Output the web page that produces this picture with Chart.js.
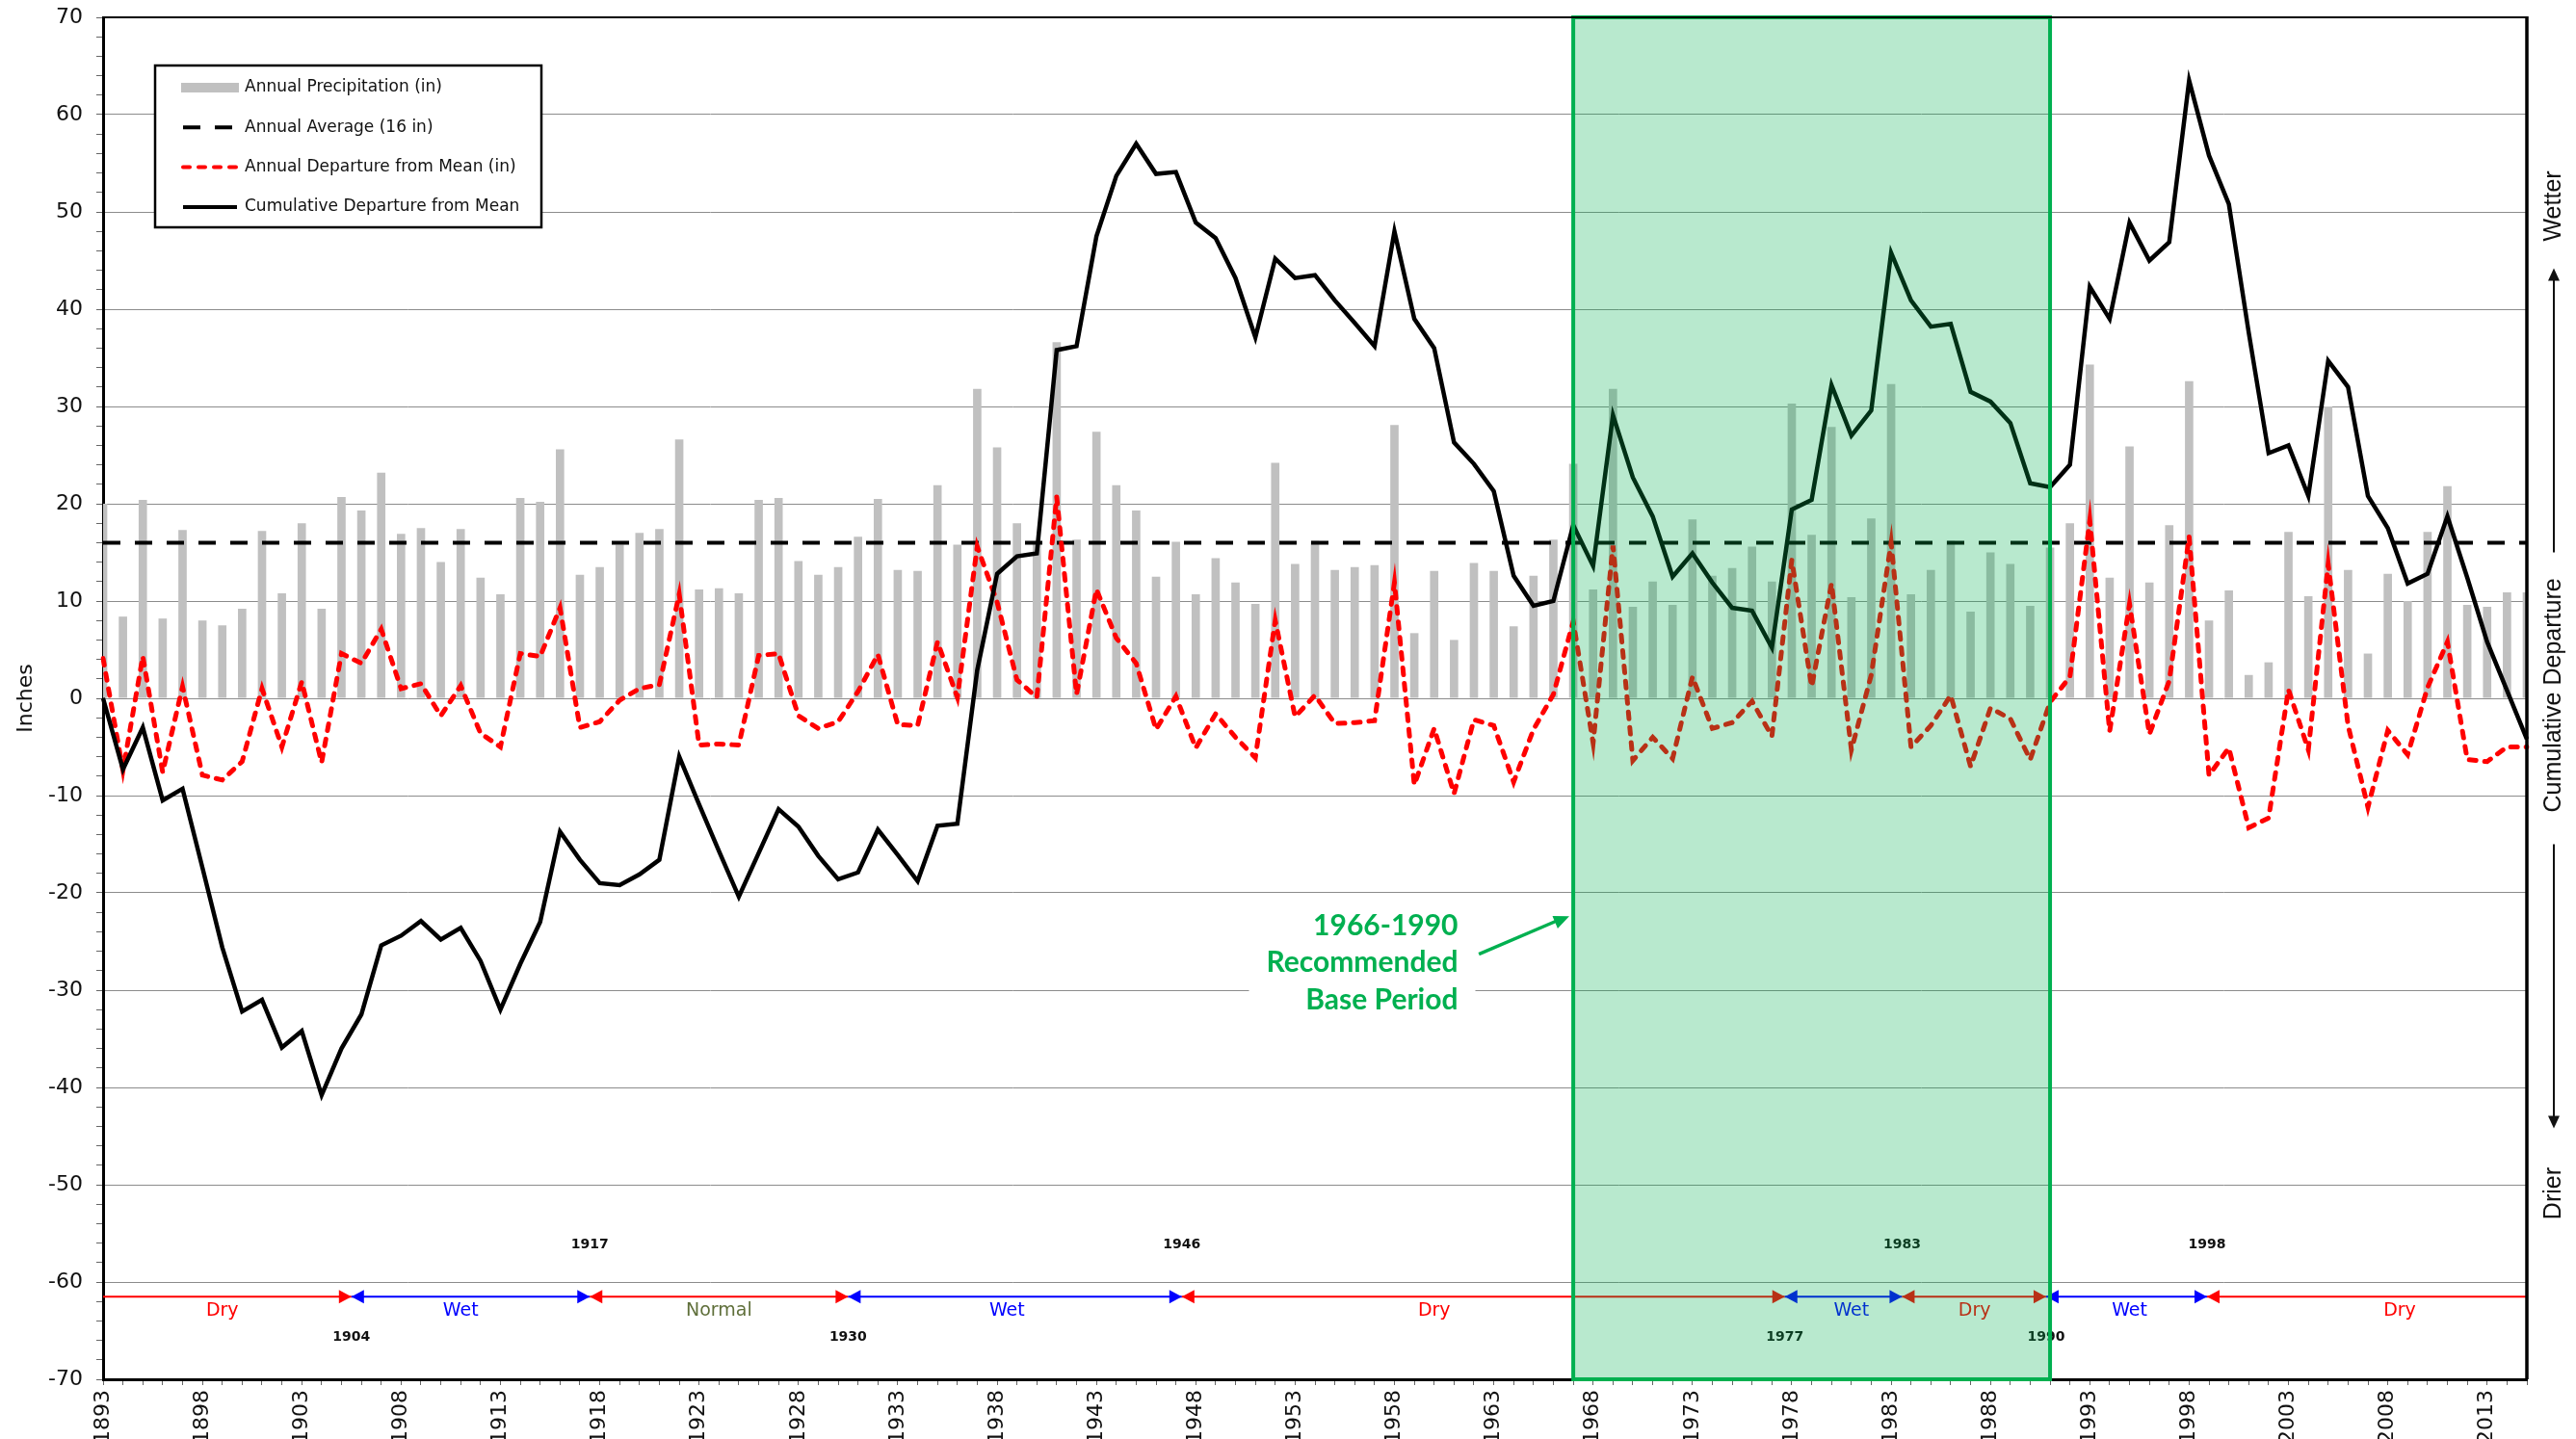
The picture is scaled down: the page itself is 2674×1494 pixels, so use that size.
<!DOCTYPE html>
<html>
<head>
<meta charset="utf-8">
<title>Annual Precipitation and Cumulative Departure from Mean</title>
<script src="https://cdn.jsdelivr.net/npm/chart.js@4.4.0/dist/chart.umd.min.js"></script>
<style>
  html, body { margin: 0; padding: 0; background: #fff; }
</style>
</head>
<body>
<canvas id="precipChart" width="2674" height="1494"></canvas>
<script>
// years on the x axis
const years = [
  1893, 1894, 1895, 1896, 1897, 1898, 1899, 1900, 1901, 1902,
  1903, 1904, 1905, 1906, 1907, 1908, 1909, 1910, 1911, 1912,
  1913, 1914, 1915, 1916, 1917, 1918, 1919, 1920, 1921, 1922,
  1923, 1924, 1925, 1926, 1927, 1928, 1929, 1930, 1931, 1932,
  1933, 1934, 1935, 1936, 1937, 1938, 1939, 1940, 1941, 1942,
  1943, 1944, 1945, 1946, 1947, 1948, 1949, 1950, 1951, 1952,
  1953, 1954, 1955, 1956, 1957, 1958, 1959, 1960, 1961, 1962,
  1963, 1964, 1965, 1966, 1967, 1968, 1969, 1970, 1971, 1972,
  1973, 1974, 1975, 1976, 1977, 1978, 1979, 1980, 1981, 1982,
  1983, 1984, 1985, 1986, 1987, 1988, 1989, 1990, 1991, 1992,
  1993, 1994, 1995, 1996, 1997, 1998, 1999, 2000, 2001, 2002,
  2003, 2004, 2005, 2006, 2007, 2008, 2009, 2010, 2011, 2012,
  2013, 2014, 2015
];

// annual precipitation (in)
const annualPrecip = [
  20.0, 8.4, 20.4, 8.2, 17.3, 8.0, 7.5, 9.2, 17.2, 10.8,
  18.0, 9.2, 20.7, 19.3, 23.2, 16.9, 17.5, 14.0, 17.4, 12.4,
  10.7, 20.6, 20.2, 25.6, 12.7, 13.5, 15.8, 17.0, 17.4, 26.6,
  11.2, 11.3, 10.8, 20.4, 20.6, 14.1, 12.7, 13.5, 16.6, 20.5,
  13.2, 13.1, 21.9, 15.8, 31.8, 25.8, 18.0, 15.9, 36.6, 16.3,
  27.4, 21.9, 19.3, 12.5, 16.1, 10.7, 14.4, 11.9, 9.7, 24.2,
  13.8, 16.2, 13.2, 13.5, 13.7, 28.1, 6.7, 13.1, 6.0, 13.9,
  13.1, 7.4, 12.6, 16.3, 24.1, 11.2, 31.8, 9.4, 12.0, 9.6,
  18.4, 12.6, 13.4, 15.6, 12.0, 30.3, 16.8, 27.9, 10.4, 18.5,
  32.3, 10.7, 13.2, 16.2, 8.9, 15.0, 13.8, 9.5, 15.5, 18.0,
  34.3, 12.4, 25.9, 11.9, 17.8, 32.6, 8.0, 11.1, 2.4, 3.7,
  17.1, 10.5, 30.0, 13.2, 4.6, 12.8, 10.0, 17.1, 21.8, 9.6,
  9.4, 10.9, 10.9
];

// annual departure from mean (in)
const annualDeparture = [
  4.1, -7.4, 4.3, -7.6, 1.2, -7.9, -8.4, -6.5, 1.0, -5.0,
  1.7, -6.6, 4.6, 3.6, 7.1, 1.0, 1.5, -1.8, 1.3, -3.6,
  -5.0, 4.6, 4.3, 9.3, -3.0, -2.4, -0.2, 1.0, 1.4, 10.7,
  -4.8, -4.7, -4.8, 4.4, 4.6, -1.8, -3.1, -2.4, 0.7, 4.5,
  -2.7, -2.8, 5.8, 0.1, 15.6, 9.9, 1.9, 0.1, 20.7, 0.4,
  11.2, 6.2, 3.6, -3.2, 0.2, -5.1, -1.6, -4.0, -6.1, 8.0,
  -1.9, 0.3, -2.6, -2.5, -2.3, 11.9, -8.9, -3.1, -9.8, -2.2,
  -2.8, -8.6, -3.2, 0.4, 7.9, -4.6, 15.7, -6.4, -4.0, -6.2,
  2.2, -3.1, -2.5, -0.3, -3.9, 14.2, 1.2, 11.8, -5.3, 2.4,
  16.0, -5.0, -2.8, 0.3, -7.0, -1.0, -2.1, -6.3, -0.4, 2.2,
  18.3, -3.4, 9.7, -3.7, 1.8, 16.6, -7.9, -5.1, -13.3, -12.3,
  0.9, -5.3, 13.8, -2.8, -11.2, -3.3, -5.8, 1.1, 5.8, -6.3,
  -6.5, -5.0, -5.0
];

// cumulative departure from mean (in)
const cumulativeDeparture = [
  0.0, -7.3, -3.0, -10.5, -9.3, -17.4, -25.6, -32.2, -31.0, -35.9,
  -34.2, -40.8, -36.0, -32.5, -25.4, -24.4, -22.9, -24.8, -23.6, -27.0,
  -32.0, -27.3, -23.0, -13.7, -16.6, -19.0, -19.2, -18.1, -16.6, -6.0,
  -10.9, -15.7, -20.4, -15.9, -11.4, -13.2, -16.2, -18.6, -17.9, -13.5,
  -16.1, -18.8, -13.1, -12.9, 2.9, 12.8, 14.6, 14.9, 35.8, 36.2,
  47.5, 53.7, 57.0, 53.9, 54.1, 48.9, 47.3, 43.2, 37.1, 45.2,
  43.2, 43.5, 40.9, 38.6, 36.2, 48.0, 39.0, 36.0, 26.3, 24.1,
  21.3, 12.6, 9.5, 10.0, 17.8, 13.6, 29.1, 22.7, 18.7, 12.5,
  14.9, 11.9, 9.3, 9.0, 5.2, 19.4, 20.4, 32.2, 27.0, 29.6,
  45.8, 40.9, 38.2, 38.5, 31.5, 30.5, 28.3, 22.1, 21.7, 24.0,
  42.3, 39.0, 48.9, 45.0, 46.9, 63.5, 55.8, 50.8, 37.6, 25.2,
  26.0, 20.8, 34.7, 32.0, 20.8, 17.5, 11.8, 12.8, 18.7, 12.4,
  5.8, 0.8, -4.2
];

const annualAverage = 16;

// wet / dry periods along the bottom (boundaries in years)
const periodBounds = [1893, 1905.5, 1917.5, 1930.5, 1947.3, 1977.65, 1983.55, 1990.8, 1998.9, 2015];
const periodNames = ['Dry', 'Wet', 'Normal', 'Wet', 'Dry', 'Wet', 'Dry', 'Wet', 'Dry'];
const periodNameAt = [1899, 1911, 1924, 1938.5, 1960, 1981, 1987.2, 1995, 2008.6];
const turningYears = ['1904', '1917', '1930', '1946', '1977', '1983', '1990', '1998'];

// recommended base period box
const baseBox = [1967, 1991];
const baseText = ['1966-1990', 'Recommended', 'Base Period'];

const periodColors = {
  Dry: { line: '#ff0000', text: '#ff0000' },
  Wet: { line: '#0000ff', text: '#0000ff' },
  Normal: { line: '#ff0000', text: '#5f6f3a' }
};
const green = '#00b050';

function arrowHead(ctx, x, y, angle, len, half) {
  ctx.save();
  ctx.translate(x, y);
  ctx.rotate(angle);
  ctx.beginPath();
  ctx.moveTo(0, 0);
  ctx.lineTo(-len, -half);
  ctx.lineTo(-len, half);
  ctx.closePath();
  ctx.fill();
  ctx.restore();
}

// periods, base box, notes and the frame
const annotations = {
  id: 'annotations',
  afterDatasetsDraw(chart) {
    const { ctx, chartArea: a, scales: { x, y } } = chart;
    const px = yr => x.getPixelForValue(yr - years[0]);
    const first = periodBounds[0], last = periodBounds[periodBounds.length - 1];

    ctx.save();
    // period arrows
    const lineY = y.getPixelForValue(-61.5);
    periodNames.forEach((name, i) => {
      const c = periodColors[name];
      const x0 = px(periodBounds[i]), x1 = px(periodBounds[i + 1]);
      ctx.strokeStyle = c.line;
      ctx.fillStyle = c.line;
      ctx.lineWidth = 2;
      ctx.beginPath();
      ctx.moveTo(x0, lineY);
      ctx.lineTo(x1, lineY);
      ctx.stroke();
      if (periodBounds[i] !== first) arrowHead(ctx, x0, lineY, Math.PI, 13, 7);
      if (periodBounds[i + 1] !== last) arrowHead(ctx, x1, lineY, 0, 13, 7);
      ctx.fillStyle = c.text;
      ctx.font = '19px "DejaVu Sans"';
      ctx.textAlign = 'center';
      ctx.textBaseline = 'middle';
      ctx.fillText(name, px(periodNameAt[i]), y.getPixelForValue(-63));
    });
    ctx.fillStyle = '#111';
    ctx.font = 'bold 14px "DejaVu Sans"';
    turningYears.forEach((label, i) => {
      const v = i % 2 === 0 ? -65.7 : -56.2;
      ctx.fillText(label, px(periodBounds[i + 1]), y.getPixelForValue(v));
    });

    // base period box
    const bx0 = px(baseBox[0]), bx1 = px(baseBox[1]);
    ctx.fillStyle = 'rgba(0, 176, 80, 0.28)';
    ctx.fillRect(bx0, a.top, bx1 - bx0, a.bottom - a.top);
    ctx.strokeStyle = green;
    ctx.lineWidth = 4;
    ctx.strokeRect(bx0, a.top, bx1 - bx0, a.bottom - a.top);

    // base period note
    ctx.font = 'bold 30px Lato';
    ctx.textAlign = 'right';
    const tx = px(1961.2);
    const lineVals = [-23.4, -27.2, -31.0];
    const w = Math.max(...baseText.map(t => ctx.measureText(t).width));
    ctx.fillStyle = '#fff';
    ctx.fillRect(tx - w - 18, y.getPixelForValue(-21), w + 36, y.getPixelForValue(-33.4) - y.getPixelForValue(-21));
    ctx.fillStyle = green;
    baseText.forEach((t, i) => ctx.fillText(t, tx, y.getPixelForValue(lineVals[i])));
    const ax0 = px(1962.25), ay0 = y.getPixelForValue(-26.3);
    const ax1 = px(1966.8), ay1 = y.getPixelForValue(-22.4);
    ctx.strokeStyle = green;
    ctx.lineWidth = 3.5;
    ctx.beginPath();
    ctx.moveTo(ax0, ay0);
    ctx.lineTo(ax1 - 10, ay1 + 3.5);
    ctx.stroke();
    arrowHead(ctx, ax1, ay1, Math.atan2(ay1 - ay0, ax1 - ax0), 16, 7);

    // frame top and right
    ctx.strokeStyle = '#000';
    ctx.lineWidth = 2;
    ctx.beginPath();
    ctx.moveTo(a.left, a.top);
    ctx.lineTo(a.right, a.top);
    ctx.stroke();
    ctx.lineWidth = 3.5;
    ctx.beginPath();
    ctx.moveTo(a.right, a.top - 1);
    ctx.lineTo(a.right, a.bottom);
    ctx.stroke();
    ctx.restore();
  },
  afterDraw(chart) {
    const { ctx, chartArea: a, scales: { y } } = chart;
    ctx.save();
    // right side wetter / drier note
    const rx = a.right + 28;
    ctx.fillStyle = '#111';
    ctx.strokeStyle = '#111';
    ctx.font = '25px "Liberation Sans"';
    ctx.textAlign = 'center';
    ctx.textBaseline = 'middle';
    [['Wetter', 50.6], ['Cumulative Departure', 0.3], ['Drier', -50.9]].forEach(([t, v]) => {
      ctx.save();
      ctx.translate(rx, y.getPixelForValue(v));
      ctx.rotate(-Math.PI / 2);
      ctx.fillText(t, 0, 0);
      ctx.restore();
    });
    ctx.lineWidth = 2;
    ctx.beginPath();
    ctx.moveTo(rx, y.getPixelForValue(15));
    ctx.lineTo(rx, y.getPixelForValue(43));
    ctx.moveTo(rx, y.getPixelForValue(-15));
    ctx.lineTo(rx, y.getPixelForValue(-43));
    ctx.stroke();
    arrowHead(ctx, rx, y.getPixelForValue(44.2), -Math.PI / 2, 13, 6);
    arrowHead(ctx, rx, y.getPixelForValue(-44.2), Math.PI / 2, 13, 6);

    // legend box inside the plot
    const left = a.left + 54, top = a.top + 50, bw = 401, bh = 168;
    ctx.fillStyle = '#fff';
    ctx.fillRect(left, top, bw, bh);
    ctx.strokeStyle = '#000';
    ctx.lineWidth = 2.5;
    ctx.strokeRect(left, top, bw, bh);
    ctx.font = '17px "DejaVu Sans"';
    ctx.textAlign = 'left';
    chart.data.datasets.forEach((ds, i) => {
      const ry = top + 23 + i * 41.3;
      const sx = left + 27;
      if (ds.type === 'bar') {
        ctx.fillStyle = ds.backgroundColor;
        ctx.fillRect(sx, ry - 5, 60, 10);
      } else {
        ctx.strokeStyle = ds.borderColor;
        ctx.lineWidth = 4;
        ctx.lineCap = ds.borderCapStyle || 'butt';
        ctx.setLineDash(ds.borderDash || []);
        ctx.beginPath();
        ctx.moveTo(sx + 2, ry);
        ctx.lineTo(sx + 58, ry);
        ctx.stroke();
        ctx.setLineDash([]);
        ctx.lineCap = 'butt';
      }
      ctx.fillStyle = '#111';
      ctx.fillText(ds.label, left + 93, ry);
    });
    ctx.restore();
  }
};

new Chart(document.getElementById('precipChart'), {
  type: 'bar',
  data: {
    labels: years,
    datasets: [
      {
        type: 'bar',
        label: 'Annual Precipitation (in)',
        data: annualPrecip,
        backgroundColor: '#c0c0c0',
        barPercentage: 0.42,
        categoryPercentage: 1,
        order: 4
      },
      {
        type: 'line',
        label: 'Annual Average (16 in)',
        data: [{ x: years[0], y: annualAverage }, { x: years[years.length - 1], y: annualAverage }],
        borderColor: '#000',
        borderWidth: 4,
        borderDash: [18, 15],
        pointRadius: 0,
        order: 3
      },
      {
        type: 'line',
        label: 'Annual Departure from Mean (in)',
        data: annualDeparture,
        borderColor: '#ff0000',
        borderWidth: 5,
        borderDash: [7, 9],
        borderCapStyle: 'round',
        pointRadius: 0,
        tension: 0,
        order: 2
      },
      {
        type: 'line',
        label: 'Cumulative Departure from Mean',
        data: cumulativeDeparture,
        borderColor: '#000',
        borderWidth: 4.5,
        borderJoinStyle: 'miter',
        pointRadius: 0,
        tension: 0,
        order: 1
      }
    ]
  },
  options: {
    responsive: false,
    animation: false,
    devicePixelRatio: 1,
    layout: { padding: { top: 18, right: 51, bottom: 0, left: 0 } },
    plugins: {
      legend: { display: false },
      tooltip: { enabled: false }
    },
    scales: {
      x: {
        type: 'category',
        offset: false,
        grid: { offset: false, drawOnChartArea: false, drawTicks: true, tickLength: 6, tickColor: '#666' },
        border: { color: '#000', width: 3 },
        ticks: {
          autoSkip: false,
          minRotation: 90,
          maxRotation: 90,
          padding: 5,
          color: '#111',
          font: { family: 'DejaVu Sans', size: 22 },
          callback: (value, index) => index % 5 === 0 ? String(years[index]) : ''
        },
        afterFit: scale => { scale.height = 62; }
      },
      y: {
        min: -70,
        max: 70,
        ticks: {
          stepSize: 2,
          autoSkip: false,
          maxTicksLimit: 200,
          padding: 14,
          color: '#111',
          font: { family: 'DejaVu Sans', size: 22 },
          callback: v => v % 10 === 0 ? String(v) : ''
        },
        grid: {
          color: c => (c.tick && c.tick.value % 10 === 0) ? '#8c8c8c' : 'rgba(0,0,0,0)',
          tickColor: '#666',
          tickLength: 7,
          lineWidth: 1
        },
        border: { color: '#000', width: 3 },
        title: {
          display: true,
          text: 'Inches',
          color: '#111',
          font: { family: 'DejaVu Sans', size: 22 },
          padding: { top: 14, bottom: 0 }
        },
        afterFit: scale => {
          scale.width = 107;
          scale.paddingTop = 0;
          scale.paddingBottom = 0;
        }
      }
    }
  },
  plugins: [annotations]
});
</script>
</body>
</html>
